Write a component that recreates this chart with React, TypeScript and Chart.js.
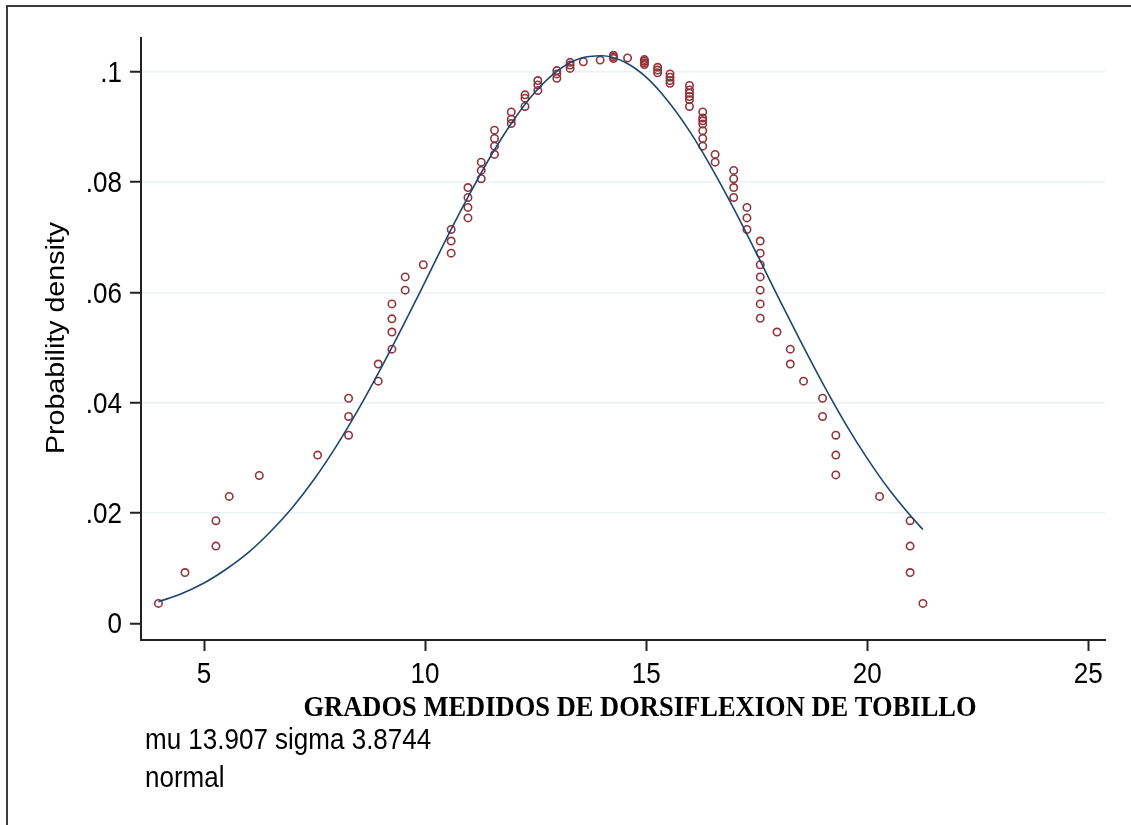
import React, { useEffect, useRef } from 'react';
import { Chart, registerables } from 'chart.js';

Chart.register(...registerables);

// Scatter points (observed values vs. density)
const pointX = [
  3.97, 4.57, 5.27, 5.27, 5.57, 6.25, 7.57,
  8.27, 8.27, 8.27, 8.94, 8.94,
  9.25, 9.25, 9.25, 9.25, 9.55, 9.55, 9.96,
  10.59, 10.59, 10.59, 10.97, 10.97, 10.97, 10.97,
  11.27, 11.27, 11.27, 11.57, 11.57, 11.57, 11.57,
  11.95, 11.95, 11.95, 12.26, 12.26, 12.26,
  12.55, 12.55, 12.55, 12.98, 12.98, 12.98,
  13.28, 13.28, 13.28, 13.58, 13.96, 14.26, 14.26, 14.26,
  14.58, 14.96, 14.96, 14.96, 14.96, 15.26, 15.26, 15.26,
  15.54, 15.54, 15.54, 15.54,
  15.98, 15.98, 15.98, 15.98, 15.98, 15.98,
  16.28, 16.28, 16.28, 16.28, 16.28, 16.28, 16.28,
  16.56, 16.56, 16.98, 16.98, 16.98, 16.98,
  17.28, 17.28, 17.28,
  17.58, 17.58, 17.58, 17.58, 17.58, 17.58, 17.58,
  17.96, 18.26, 18.26, 18.56, 18.99, 18.99,
  19.29, 19.29, 19.29, 20.28, 20.97, 20.97, 20.97, 21.26,
];
const pointY = [
  0.0036, 0.0092, 0.0140, 0.0186, 0.0230, 0.0268, 0.0305,
  0.0341, 0.0375, 0.0408, 0.0439, 0.0470,
  0.0497, 0.0528, 0.0552, 0.0579, 0.0604, 0.0628, 0.0650,
  0.0671, 0.0693, 0.0714, 0.0735, 0.0754, 0.0772, 0.0790,
  0.0806, 0.0821, 0.0836, 0.0850, 0.0865, 0.0879, 0.0894,
  0.0906, 0.0914, 0.0927, 0.0937, 0.0952, 0.0958,
  0.0966, 0.0976, 0.0984, 0.0988, 0.0996, 0.1002,
  0.1006, 0.1012, 0.1017, 0.1018, 0.1021, 0.1024, 0.1027, 0.1030,
  0.1025, 0.1022, 0.1019, 0.1016, 0.1013, 0.1008, 0.1003, 0.0998,
  0.0996, 0.0990, 0.0984, 0.0979,
  0.0975, 0.0967, 0.0961, 0.0955, 0.0949, 0.0937,
  0.0927, 0.0916, 0.0911, 0.0905, 0.0893, 0.0879, 0.0865,
  0.0850, 0.0836, 0.0821, 0.0806, 0.0790, 0.0772,
  0.0754, 0.0735, 0.0714,
  0.0693, 0.0671, 0.0650, 0.0628, 0.0604, 0.0579, 0.0553,
  0.0528, 0.0497, 0.0470, 0.0439, 0.0408, 0.0375,
  0.0341, 0.0305, 0.0269, 0.0230, 0.0186, 0.0140, 0.0092, 0.0036,
];

// Fitted normal curve
const curveX = [
  3.97, 4.5, 5, 5.5, 6, 6.5, 7, 7.5, 8, 8.5, 9, 9.5, 10, 10.5, 11, 11.5, 12, 12.5,
  13, 13.5, 14, 14.5, 15, 15.5, 16, 16.5, 17, 17.5, 18, 18.5, 19, 19.5, 20, 20.5, 21, 21.26,
];
const curveY = [
  0.0039, 0.0054, 0.0073, 0.0098, 0.0128, 0.0166, 0.0210, 0.0262, 0.0322, 0.0389,
  0.0462, 0.0539, 0.0619, 0.0700, 0.0777, 0.0849, 0.0912, 0.0964, 0.1002, 0.1024,
  0.1029, 0.1018, 0.0990, 0.0946, 0.0890, 0.0823, 0.0749, 0.0670, 0.0589, 0.0510,
  0.0434, 0.0363, 0.0299, 0.0242, 0.0193, 0.0170,
];

const xTickValues = [5, 10, 15, 20, 25];
const xTickLabels = ['5', '10', '15', '20', '25'];
const yTickValues = [0, 0.02, 0.04, 0.06, 0.08, 0.1];
const yTickLabels = ['0', '.02', '.04', '.06', '.08', '.1'];

const xTitle = 'GRADOS MEDIDOS DE DORSIFLEXION DE TOBILLO';
const yTitle = 'Probability density';
const noteLines = ['mu 13.907 sigma 3.8744', 'normal'];

const W = 1131;
const H = 825;
const SANS = '"Liberation Sans", Arial, sans-serif';
const SERIF = '"Liberation Serif", "Times New Roman", serif';
const STRETCH = 1.1; // the reference's text is slightly taller than wide

function drawText(
  ctx: CanvasRenderingContext2D,
  text: string,
  x: number,
  y: number,
  font: string,
  align: CanvasTextAlign,
  sx: number,
  sy: number,
  rot = 0
) {
  ctx.save();
  ctx.translate(x, y);
  if (rot) ctx.rotate(rot);
  ctx.scale(sx, sy);
  ctx.font = font;
  ctx.textAlign = align;
  ctx.textBaseline = 'alphabetic';
  ctx.fillStyle = '#000';
  ctx.fillText(text, 0, 0);
  ctx.restore();
}

const decorPlugin = {
  id: 'decor',
  afterDraw(chart: any) {
    const ctx = chart.ctx as CanvasRenderingContext2D;
    ctx.save();
    // outer frame (top and left edges visible)
    ctx.strokeStyle = '#3c3c3c';
    ctx.lineWidth = 2;
    ctx.beginPath();
    ctx.moveTo(7, H);
    ctx.lineTo(7, 6);
    ctx.lineTo(W, 6);
    ctx.stroke();
    ctx.restore();

    const xs = chart.scales.x;
    const ys = chart.scales.y;
    const tickFont = `26px ${SANS}`;

    // x tick labels
    xTickValues.forEach((v, i) => {
      drawText(ctx, xTickLabels[i], xs.getPixelForValue(v), 683, tickFont, 'center', 1, STRETCH);
    });
    // y tick labels
    yTickValues.forEach((v, i) => {
      drawText(ctx, yTickLabels[i], 122, ys.getPixelForValue(v) + 10.2, tickFont, 'right', 1, STRETCH);
    });

    // x title
    drawText(ctx, xTitle, 640, 716, `bold 26.5px ${SERIF}`, 'center', 1, STRETCH);

    // y title (rotated)
    drawText(ctx, yTitle, 63.5, 338, `26px ${SANS}`, 'center', STRETCH, 1, -Math.PI / 2);

    // notes
    drawText(ctx, noteLines[0], 145, 749, `26px ${SANS}`, 'left', 1, STRETCH);
    drawText(ctx, noteLines[1], 145, 787, `26px ${SANS}`, 'left', 1, STRETCH);
  },
};

export default function App() {
  const ref = useRef<HTMLCanvasElement | null>(null);

  useEffect(() => {
    if (!ref.current) return;
    const chart = new Chart(ref.current, {
      type: 'scatter',
      data: {
        datasets: [
          {
            label: 'normal',
            data: curveX.map((x, i) => ({ x, y: curveY[i] })),
            showLine: true,
            borderColor: 'rgb(26,71,111)',
            borderWidth: 1.6,
            pointRadius: 0,
            cubicInterpolationMode: 'monotone',
            fill: false,
          },
          {
            label: 'density',
            data: pointX.map((x, i) => ({ x, y: pointY[i] })),
            pointStyle: 'circle',
            pointRadius: 3.7,
            borderWidth: 1.6,
            borderColor: 'rgb(144,53,59)',
            backgroundColor: 'rgba(0,0,0,0)',
            showLine: false,
          },
        ],
      },
      options: {
        responsive: false,
        animation: false,
        events: [],
        layout: { padding: { left: 0, top: 38, right: 26, bottom: 0 } },
        plugins: {
          legend: { display: false },
          tooltip: { enabled: false },
        },
        scales: {
          x: {
            type: 'linear',
            min: 3.575,
            max: 25.378,
            afterFit: (s: any) => {
              s.height = H - 640;
            },
            afterBuildTicks: (s: any) => {
              s.ticks = xTickValues.map((v) => ({ value: v }));
            },
            ticks: {
              display: false,
              autoSkip: false,
              maxRotation: 0,
            },
            grid: {
              drawOnChartArea: false,
              drawTicks: true,
              tickLength: 11,
              tickColor: '#222',
              tickWidth: 2,
            },
            border: { display: true, color: '#222', width: 2 },
          },
          y: {
            type: 'linear',
            min: -0.003028,
            max: 0.10611,
            afterFit: (s: any) => {
              s.width = 141;
            },
            afterBuildTicks: (s: any) => {
              s.ticks = yTickValues.map((v) => ({ value: v }));
            },
            ticks: {
              display: false,
              autoSkip: false,
            },
            grid: {
              drawTicks: true,
              tickLength: 11,
              tickColor: '#222',
              tickWidth: 2,
              lineWidth: 1.5,
              color: (c: any) =>
                c.tick && c.tick.value === 0 ? 'rgba(0,0,0,0)' : 'rgb(234,242,243)',
            },
            border: { display: true, color: '#222', width: 2 },
          },
        },
      },
      plugins: [decorPlugin],
    });
    return () => chart.destroy();
  }, []);

  return (
    <div style={{ position: 'absolute', left: 0, top: 0, width: W, height: H, background: '#fff' }}>
      <canvas ref={ref} width={W} height={H} style={{ display: 'block' }} />
    </div>
  );
}
